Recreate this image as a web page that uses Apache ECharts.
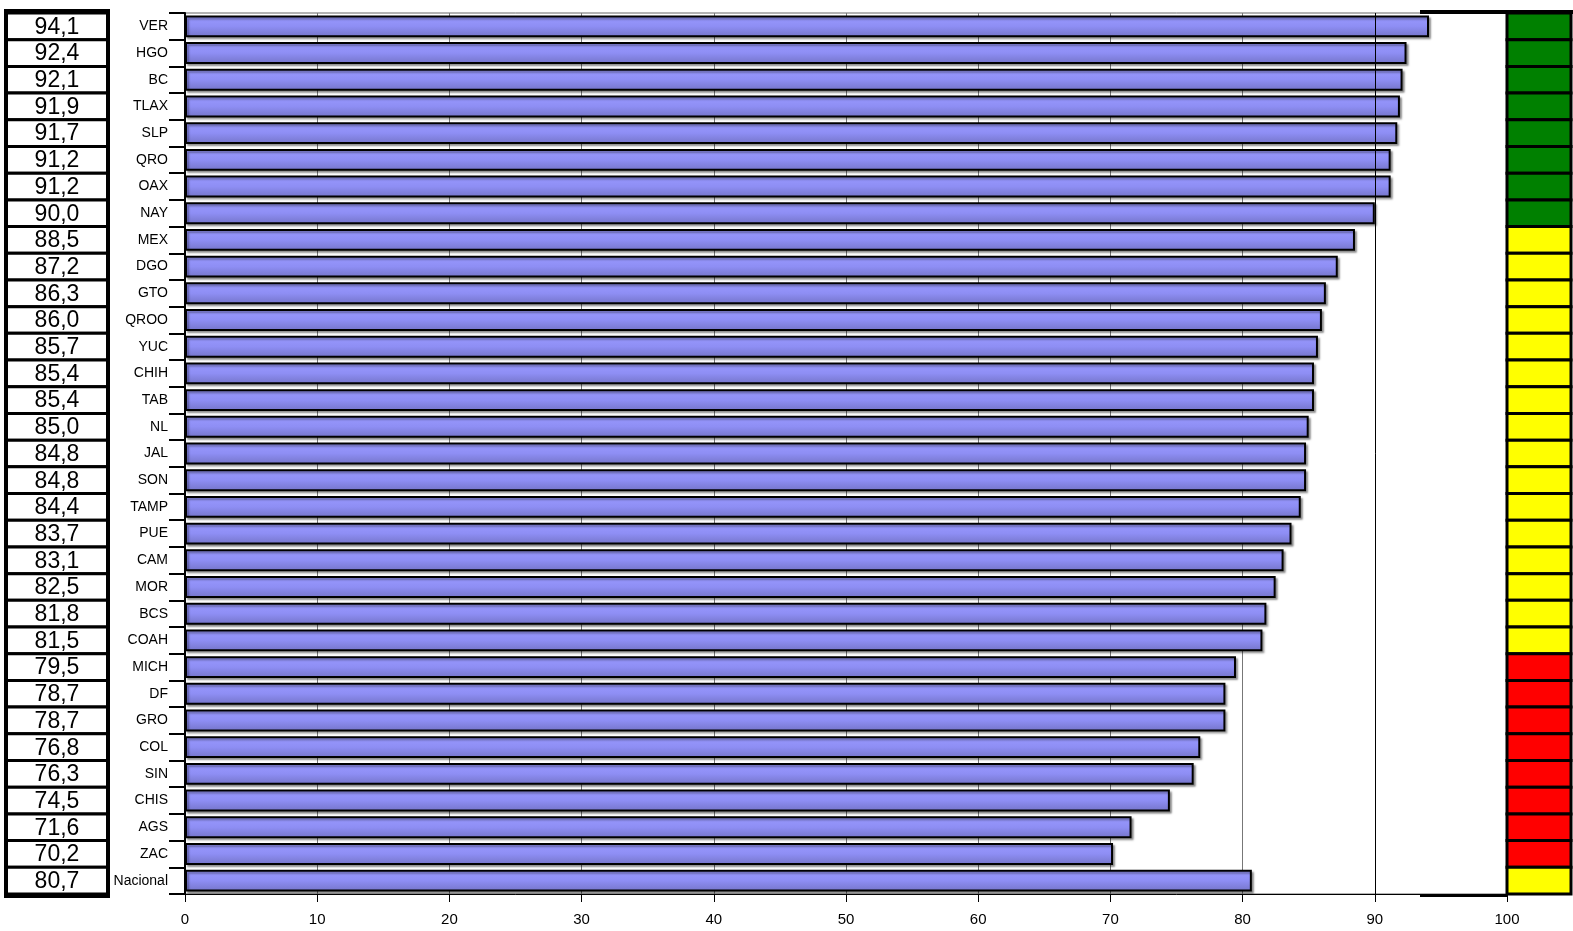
<!DOCTYPE html>
<html>
<head>
<meta charset="utf-8">
<script src="https://cdn.jsdelivr.net/npm/echarts@6/dist/echarts.min.js"></script>
<style>
  html, body { margin: 0; padding: 0; background: #fff; }
  #chart { width: 1573px; height: 931px; }
</style>
</head>
<body>
<div id="chart"></div>
<script>
// entidades, de mayor a menor, y el total nacional al final
const estados = ['VER', 'HGO', 'BC', 'TLAX', 'SLP', 'QRO', 'OAX', 'NAY', 'MEX', 'DGO', 'GTO', 'QROO',
  'YUC', 'CHIH', 'TAB', 'NL', 'JAL', 'SON', 'TAMP', 'PUE', 'CAM', 'MOR', 'BCS', 'COAH',
  'MICH', 'DF', 'GRO', 'COL', 'SIN', 'CHIS', 'AGS', 'ZAC', 'Nacional']
const valores = [94.1, 92.4, 92.1, 91.9, 91.7, 91.2, 91.2, 90.0, 88.5, 87.2, 86.3, 86.0,
  85.7, 85.4, 85.4, 85.0, 84.8, 84.8, 84.4, 83.7, 83.1, 82.5, 81.8, 81.5,
  79.5, 78.7, 78.7, 76.8, 76.3, 74.5, 71.6, 70.2, 80.7]

// semáforo: verde >= 90, amarillo >= 80, rojo < 80
const semaforo = v => v >= 90 ? '#008000' : (v >= 80 ? '#ffff00' : '#ff0000')
const fmt = v => v.toFixed(1).replace('.', ',')

const TOP = 13, HEIGHT = 881

// celda de tabla que ocupa toda la banda de la categoría
function celda(params, api, fill, texto) {
  const cs = params.coordSys
  const y = api.coord([0, api.value(1)])[1]
  const h = api.size([0, 1])[1]
  const rect = { type: 'rect', shape: { x: cs.x, y: y - h / 2, width: cs.width, height: h },
    style: { fill: fill, stroke: '#000', lineWidth: 3 } }
  if (!texto) return rect
  return { type: 'group', children: [rect, {
    type: 'text', style: { text: texto, x: cs.x + cs.width / 2, y: y + 1, align: 'center', verticalAlign: 'middle',
      font: '23px "Liberation Sans", Arial, sans-serif', fill: '#000' } }] }
}

const filas = valores.map((v, i) => [v, i])

const chart = echarts.init(document.getElementById('chart'))
chart.setOption({
  animation: false,
  textStyle: { fontFamily: 'Liberation Sans, Arial, sans-serif' },
  grid: [
    { left: 185, width: 1322, top: TOP, height: HEIGHT, show: true, borderColor: '#666', borderWidth: 1 },
    { left: 6, width: 102, top: TOP, height: HEIGHT },
    { left: 1507, width: 64, top: TOP, height: HEIGHT },
  ],
  xAxis: [
    {
      gridIndex: 0, type: 'value', min: 0, max: 100, interval: 10,
      axisLine: { show: true, lineStyle: { color: '#000', width: 1 } },
      axisTick: { show: true, length: 8, lineStyle: { color: '#000' } },
      axisLabel: { color: '#000', fontSize: 15, margin: 18 },
      splitLine: { show: true, lineStyle: { color: '#777', width: 1 } },
    },
    { gridIndex: 1, type: 'value', min: 0, max: 1, show: false },
    { gridIndex: 2, type: 'value', min: 0, max: 1, show: false },
  ],
  yAxis: [
    {
      gridIndex: 0, type: 'category', data: estados, inverse: true,
      axisLine: { show: true, lineStyle: { color: '#000', width: 2 } },
      axisTick: { show: true, length: 16, lineStyle: { color: '#000', width: 2 } },
      axisLabel: { color: '#000', fontSize: 14, margin: 17 },
    },
    { gridIndex: 1, type: 'category', data: estados, inverse: true, show: false },
    { gridIndex: 2, type: 'category', data: estados, inverse: true, show: false },
  ],
  series: [
    {
      type: 'bar', xAxisIndex: 0, yAxisIndex: 0,
      data: valores,
      barCategoryGap: '18%',
      itemStyle: {
        color: {
          type: 'linear', x: 0, y: 0, x2: 0, y2: 1,
          colorStops: [
            { offset: 0, color: '#9a9aff' },
            { offset: 0.5, color: '#8e8ef4' },
            { offset: 1, color: '#7474c8' },
          ],
        },
        borderColor: '#000', borderWidth: 2,
        shadowColor: 'rgba(0,0,0,0.35)', shadowBlur: 2, shadowOffsetX: 2, shadowOffsetY: 2,
      },
      markLine: {
        silent: true, symbol: 'none', label: { show: false },
        lineStyle: { color: '#000', type: 'solid', width: 1 },
        data: [{ xAxis: 90 }],
      },
      z: 3,
    },
    {
      // tabla de valores a la izquierda
      type: 'custom', xAxisIndex: 1, yAxisIndex: 1,
      data: filas,
      encode: { x: 0, y: 1 },
      renderItem: (params, api) => celda(params, api, '#fff', fmt(api.value(0))),
    },
    {
      // columna del semáforo a la derecha
      type: 'custom', xAxisIndex: 2, yAxisIndex: 2,
      data: filas,
      encode: { x: 0, y: 1 },
      renderItem: (params, api) => celda(params, api, semaforo(api.value(0))),
    },
  ],
  graphic: [
    { type: 'rect', shape: { x: 6, y: 11, width: 102, height: 885 }, style: { fill: 'none', stroke: '#000', lineWidth: 4 }, z: 10 },
    { type: 'rect', shape: { x: 1420, y: 10, width: 153, height: 4 }, style: { fill: '#000' }, z: 10 },
    { type: 'rect', shape: { x: 1420, y: 894, width: 88, height: 3 }, style: { fill: '#000' }, z: 10 },
  ],
})
</script>
</body>
</html>
